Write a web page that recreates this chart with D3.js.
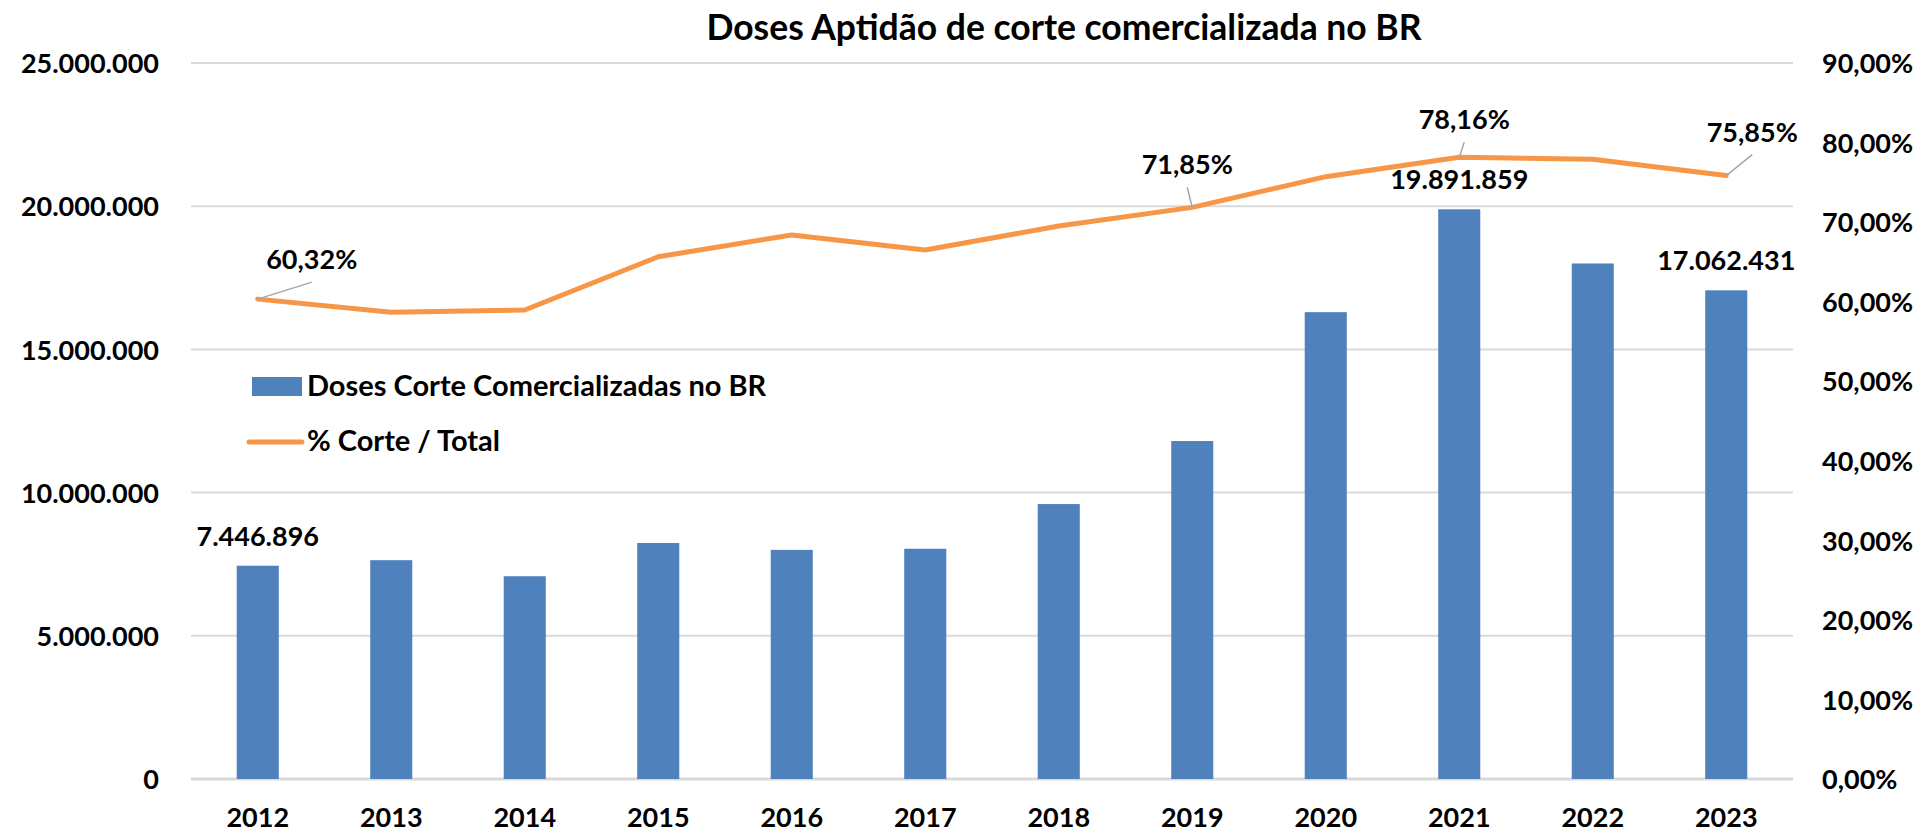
<!DOCTYPE html>
<html>
<head>
<meta charset="utf-8">
<script src="https://cdn.jsdelivr.net/npm/d3@7"></script>
<style>
  html, body { margin: 0; padding: 0; background: #fff; overflow: hidden; }
  svg { display: block; }
  text { font-family: Lato, "Open Sans", sans-serif; font-weight: 700; fill: #000; }
</style>
</head>
<body>
<svg width="1924" height="835"></svg>
<script>
// data
var years = ["2012", "2013", "2014", "2015", "2016", "2017", "2018", "2019", "2020", "2021", "2022", "2023"];
var doses = [7446896, 7640000, 7080000, 8240000, 8000000, 8040000, 9600000, 11800000, 16300000, 19891859, 18000000, 17062431];
var pctCorte = [60.32, 58.66, 58.95, 65.65, 68.38, 66.49, 69.51, 71.85, 75.71, 78.16, 77.90, 75.85];
var leftTicks = [0, 5000000, 10000000, 15000000, 20000000, 25000000];
var rightTicks = [0, 10, 20, 30, 40, 50, 60, 70, 80, 90];
var barLabelYears = ["2012", "2021", "2023"];
var lineLabelYears = ["2012", "2019", "2021", "2023"];

var title = "Doses Aptidão de corte comercializada no BR";
var barName = "Doses Corte Comercializadas no BR";
var lineName = "% Corte / Total";

var svg = d3.select("svg");
var margin = { top: 63, right: 131, bottom: 56, left: 191 };
var width = +svg.attr("width");
var height = +svg.attr("height");
var innerWidth = width - margin.left - margin.right;
var innerHeight = height - margin.top - margin.bottom;

var ptBR = d3.formatLocale({ decimal: ",", thousands: ".", grouping: [3], currency: ["R$", ""] });
var fmtInt = ptBR.format(",.0f");
var fmtPct = function (v) { return ptBR.format(".2f")(v) + "%"; };

var blue = "#4F81BD";
var orange = "#F79646";
var grid = "#D9D9D9";

var data = years.map(function (y, i) {
  return { year: y, doses: doses[i], pct: pctCorte[i] };
});

// scales
var x = d3.scaleBand()
  .domain(years)
  .range([0, innerWidth])
  .paddingInner(0.685)
  .paddingOuter(0.3425);

var yLeft = d3.scaleLinear().domain([0, 25000000]).range([innerHeight, 0]);
var yRight = d3.scaleLinear().domain([0, 90]).range([innerHeight, 0]);

var g = svg.append("g").attr("transform", "translate(" + margin.left + "," + margin.top + ")");

// gridlines
g.append("g")
  .selectAll("line")
  .data(leftTicks)
  .join("line")
  .attr("x1", 0)
  .attr("x2", innerWidth)
  .attr("y1", function (d) { return yLeft(d); })
  .attr("y2", function (d) { return yLeft(d); })
  .attr("stroke", grid)
  .attr("stroke-width", function (d) { return d === 0 ? 3 : 2; });

// left axis
var yAxisLeft = d3.axisLeft(yLeft).tickValues(leftTicks).tickFormat(fmtInt).tickSize(0).tickPadding(32);
var leftG = g.append("g").call(yAxisLeft);
leftG.select(".domain").remove();
leftG.selectAll("text").style("font-size", "27px").attr("dy", "0.36em");

// right axis
var yAxisRight = d3.axisRight(yRight).tickValues(rightTicks).tickFormat(fmtPct).tickSize(0).tickPadding(29);
var rightG = g.append("g").attr("transform", "translate(" + innerWidth + ",0)").call(yAxisRight);
rightG.select(".domain").remove();
rightG.selectAll("text").style("font-size", "27px").attr("dy", "0.36em");

// bottom axis
var xAxis = d3.axisBottom(x).tickSize(0).tickPadding(29);
var xG = g.append("g").attr("transform", "translate(0," + innerHeight + ")").call(xAxis);
xG.select(".domain").remove();
xG.selectAll("text").style("font-size", "27px").attr("dy", "0.71em");

// bars
g.append("g")
  .selectAll("rect")
  .data(data)
  .join("rect")
  .attr("x", function (d) { return x(d.year); })
  .attr("y", function (d) { return yLeft(d.doses); })
  .attr("width", x.bandwidth())
  .attr("height", function (d) { return innerHeight - yLeft(d.doses); })
  .attr("fill", blue);

// line
var cx = function (d) { return x(d.year) + x.bandwidth() / 2; };
var line = d3.line()
  .x(cx)
  .y(function (d) { return yRight(d.pct); });

g.append("path")
  .datum(data)
  .attr("d", line)
  .attr("fill", "none")
  .attr("stroke", orange)
  .attr("stroke-width", 5)
  .attr("stroke-linejoin", "round")
  .attr("stroke-linecap", "round");

// bar labels
g.append("g")
  .selectAll("text")
  .data(data.filter(function (d) { return barLabelYears.indexOf(d.year) >= 0; }))
  .join("text")
  .attr("x", cx)
  .attr("y", function (d) { return yLeft(d.doses) - 20; })
  .attr("text-anchor", "middle")
  .style("font-size", "27px")
  .text(function (d) { return fmtInt(d.doses); });

// line labels with leader lines (offsets of label from point)
var labelShift = {
  "2012": [54, -30],
  "2019": [-5, -33],
  "2021": [5, -28],
  "2023": [26, -34]
};
var lineLabels = data.filter(function (d) { return lineLabelYears.indexOf(d.year) >= 0; });

g.append("g")
  .selectAll("line")
  .data(lineLabels)
  .join("line")
  .attr("x1", function (d) { return cx(d) + labelShift[d.year][0]; })
  .attr("y1", function (d) { return yRight(d.pct) + labelShift[d.year][1] + 13; })
  .attr("x2", cx)
  .attr("y2", function (d) { return yRight(d.pct); })
  .attr("stroke", "#A6A6A6")
  .attr("stroke-width", 1.5);

g.append("g")
  .selectAll("text")
  .data(lineLabels)
  .join("text")
  .attr("x", function (d) { return cx(d) + labelShift[d.year][0]; })
  .attr("y", function (d) { return yRight(d.pct) + labelShift[d.year][1]; })
  .attr("text-anchor", "middle")
  .style("font-size", "27px")
  .text(function (d) { return fmtPct(d.pct); });

// title
svg.append("text")
  .attr("x", 1064)
  .attr("y", 40)
  .attr("text-anchor", "middle")
  .style("font-size", "35.5px")
  .text(title);

// legend
var legend = g.append("g").attr("transform", "translate(61,314)");
legend.append("rect")
  .attr("x", 0)
  .attr("y", 0)
  .attr("width", 50)
  .attr("height", 19)
  .attr("fill", blue);
legend.append("text")
  .attr("x", 55)
  .attr("y", 19)
  .style("font-size", "29px")
  .text(barName);
legend.append("line")
  .attr("x1", -3)
  .attr("x2", 50)
  .attr("y1", 65)
  .attr("y2", 65)
  .attr("stroke", orange)
  .attr("stroke-width", 5)
  .attr("stroke-linecap", "round");
legend.append("text")
  .attr("x", 55)
  .attr("y", 74)
  .style("font-size", "29px")
  .text(lineName);
</script>
</body>
</html>
